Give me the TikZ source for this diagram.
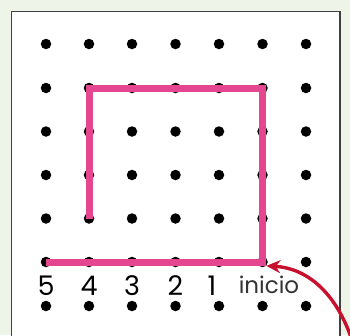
\documentclass[tikz,border=0pt]{standalone}
\usepackage{fontspec}
\setmainfont{Poppins}
\usetikzlibrary{arrows.meta}
\definecolor{bgreen}{HTML}{EEF4E8}
\definecolor{pinkline}{HTML}{E4468F}
\definecolor{redarrow}{HTML}{C8102E}
\tikzset{
  dot/.style={circle,fill=black,inner sep=0pt,minimum size=10.5pt},
  pinkpath/.style={draw=pinkline,line width=7pt,line cap=butt,line join=miter},
  numlab/.style={font=\fontsize{27}{27}\selectfont,inner sep=0pt,text=black,anchor=base},
  inilab/.style={font=\fontsize{23}{23}\selectfont,inner sep=0pt,text=black!80,anchor=base},
  arrowred/.style={draw=redarrow,line width=3.4pt,-{Stealth[length=14pt,width=13pt]}}
}
\begin{document}
\begin{tikzpicture}[x=1pt,y=-1pt]
\useasboundingbox (0,0) rectangle (350,335);
\fill[bgreen] (0,0) rectangle (350,335);
\draw[fill=white,draw=black!75,line width=1.3pt] (11.5,11.5) -- (340,11.5) -- (340,340) -- (11.5,340) -- cycle;
\foreach \c/\x in {1/46,2/89,3/132,4/175.5,5/219,6/262.5,7/306}{
  \foreach \r/\y in {1/44,2/88,3/131.5,4/175,5/218.5,6/262,7/306}{
    \node[dot] (d-\c-\r) at (\x,\y) {};
  }
}
\draw[pinkpath] (d-2-5.center) -- (d-2-2.center) -- (d-6-2.center) -- (d-6-6.center) -- (d-1-6.center);
\node[numlab] (n5) at (46,295) {5};
\node[numlab] (n4) at (89,295) {4};
\node[numlab] (n3) at (132,295) {3};
\node[numlab] (n2) at (175.5,295) {2};
\node[numlab] (n1) at (212,295) {1};
\node[inilab] (ini) at (269,293) {inicio};
\coordinate (astart) at (352,340);
\draw[arrowred] (astart) .. controls (335,290) and (305,268) .. (d-6-6.south east);
\end{tikzpicture}
\end{document}
